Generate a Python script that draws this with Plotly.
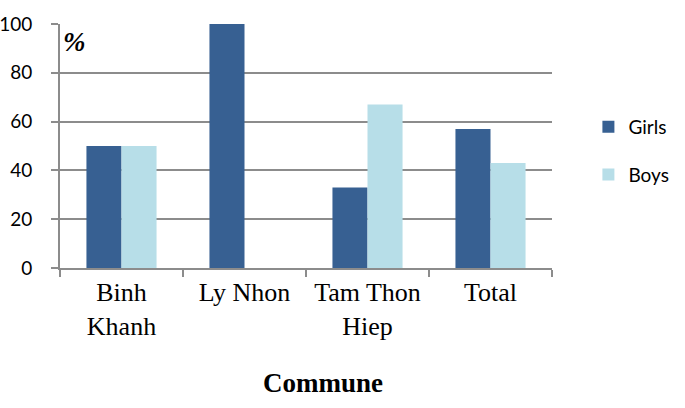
import plotly.graph_objects as go

communes = ["Binh<br>Khanh", "Ly Nhon", "Tam Thon<br>Hiep", "Total"]
girls = [50, 100, 33, 57]
boys = [50, 0, 67, 43]

GRID = "#8c8c8c"
fig = go.Figure()
fig.add_trace(go.Bar(x=communes, y=girls, name="Girls", marker_color="#376092",
                     legendgroup="g", marker_line_width=0))
fig.add_trace(go.Bar(x=communes, y=boys, name="Boys", marker_color="#b7dee8",
                     legendgroup="b", marker_line_width=0))

fig.update_layout(
    width=685, height=408,
    margin=dict(l=60, r=133, t=24, b=140, autoexpand=False),
    paper_bgcolor="white", plot_bgcolor="white",
    barmode="group", bargap=0.43, bargroupgap=0,
    font=dict(family="Lato, 'Open Sans', sans-serif", color="black"),
    showlegend=True,
    legend=dict(x=1.074, xanchor="left", y=0.48, yanchor="middle",
                traceorder="grouped", tracegroupgap=20,
                font=dict(size=19, family="Lato, sans-serif"),
                itemwidth=30, bgcolor="rgba(0,0,0,0)"),
    xaxis=dict(
        automargin=False,
        tickson="boundaries", ticks="outside", ticklen=7, tickcolor=GRID, tickwidth=2,
        showline=True, linecolor=GRID, linewidth=2,
        tickfont=dict(family="'Liberation Serif', 'Times New Roman', serif", size=26),
        showgrid=False,
    ),
    yaxis=dict(
        automargin=False,
        range=[0, 100], dtick=20, ticks="outside", ticklen=7, tickcolor=GRID, tickwidth=2,
        showline=True, linecolor=GRID, linewidth=2,
        showgrid=True, gridcolor=GRID, gridwidth=2,
        tickfont=dict(size=19, family="Lato, sans-serif"),
        ticklabelstandoff=15,
        zeroline=False,
    ),
    annotations=[
        dict(text="<b><i>%</i></b>", xref="paper", yref="paper", x=0.003, y=0.995,
             xanchor="left", yanchor="top", showarrow=False,
             font=dict(family="'Liberation Serif', serif", size=27)),
        dict(text="<b>Commune</b>", xref="paper", yref="paper", x=0.535, y=-0.47,
             xanchor="center", yanchor="middle", showarrow=False,
             font=dict(family="'Liberation Serif', serif", size=27)),
    ],
)
fig.write_html("out.html", config={"displayModeBar": False},
               post_script="document.body.style.margin='0';")
